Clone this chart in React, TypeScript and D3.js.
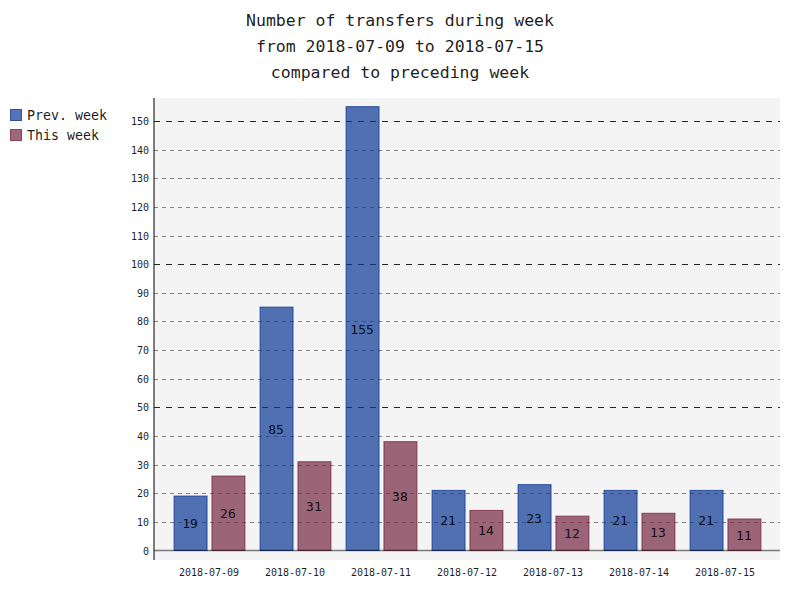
import * as d3 from 'd3';

const days = ['2018-07-09', '2018-07-10', '2018-07-11', '2018-07-12', '2018-07-13', '2018-07-14', '2018-07-15'];
const seriesNames = ['Prev. week', 'This week'];
const prevWeek = [19, 85, 155, 21, 23, 21, 21];
const thisWeek = [26, 31, 38, 14, 12, 13, 11];
const yTicks = d3.range(0, 151, 10);
const titleLines = [
  'Number of transfers during week',
  'from 2018-07-09 to 2018-07-15',
  'compared to preceding week',
];

const colors = ['rgb(12,55,149)', 'rgb(117,38,65)'];
const font = '"DejaVu Sans Mono", monospace';

export default function App() {
  const width = 800;
  const height = 600;
  const plot = { left: 154, right: 780, top: 98, bottom: 560 };

  const x = d3.scaleBand<string>().domain(days).range([166, 768]).paddingInner(0).paddingOuter(0);
  const xs = d3.scaleBand<string>().domain(seriesNames).range([0, x.bandwidth()]).paddingInner(0.13).paddingOuter(0.2);
  const y = d3.scaleLinear().domain([0, 150]).range([550.5, 121]);

  const series = [prevWeek, thisWeek];

  return (
    <svg width={width} height={height} style={{ display: 'block', position: 'absolute', left: 0, top: 0 }} fontFamily={font}>
      <rect x={0} y={0} width={width} height={height} fill="#fff" />
      {titleLines.map((t, i) => (
        <text key={t} x={400} y={26 + i * 26} textAnchor="middle" fontSize={16.5} fill="rgba(0,0,0,0.9)">
          {t}
        </text>
      ))}

      {/* legend */}
      {seriesNames.map((s, i) => (
        <g key={s} transform={`translate(10, ${109 + i * 20})`}>
          <rect x={0.5} y={0.5} width={11} height={11} fill={colors[i]} fillOpacity={0.7} stroke={colors[i]} strokeOpacity={0.8} />
          <text x={17} y={10.5} fontSize={13.3} fill="rgba(0,0,0,0.9)">{s}</text>
        </g>
      ))}

      {/* plot bg */}
      <rect x={plot.left} y={plot.top} width={plot.right - plot.left} height={plot.bottom - plot.top} fill="#f4f4f4" />

      {/* grid */}
      {yTicks.map((t) => {
        const yy = Math.round(y(t)) + 0.5;
        const major = t % 50 === 0;
        return (
          <g key={t}>
            {t !== 0 && (
              <line
                x1={plot.left}
                x2={plot.right}
                y1={yy}
                y2={yy}
                stroke={major ? 'rgba(0,0,0,0.85)' : 'rgba(0,0,0,0.45)'}
                strokeDasharray={major ? '6,6' : '4,4'}
              />
            )}
            <text x={149} y={yy + 3.5} textAnchor="end" fontSize={10} fill="rgba(0,0,0,0.9)">{t}</text>
          </g>
        );
      })}

      {/* bars */}
      {days.map((d, di) => (
        <g key={d} transform={`translate(${x(d)},0)`}>
          {series.map((vals, si) => {
            const v = vals[di];
            const bx = xs(seriesNames[si])!;
            const top = y(v);
            return (
              <g key={si}>
                <rect
                  x={bx + 0.5}
                  y={top}
                  width={xs.bandwidth()}
                  height={y(0) - top}
                  fill={colors[si]}
                  fillOpacity={0.7}
                  stroke={colors[si]}
                  strokeOpacity={0.8}
                />
                <text
                  x={bx + xs.bandwidth() / 2}
                  y={(top + y(0)) / 2 + 5}
                  textAnchor="middle"
                  fontSize={13}
                  fill="rgba(0,0,0,0.9)"
                >
                  {v}
                </text>
              </g>
            );
          })}
        </g>
      ))}

      {/* axes */}
      <line x1={plot.left} x2={plot.right} y1={y(0)} y2={y(0)} stroke="rgba(0,0,0,0.5)" strokeWidth={1.5} />
      <line x1={plot.left} x2={plot.left} y1={plot.top} y2={plot.bottom} stroke="rgba(0,0,0,0.5)" strokeWidth={2} />

      {days.map((d) => (
        <text key={d} x={x(d)! + x.bandwidth() / 2} y={576} textAnchor="middle" fontSize={10} fill="rgba(0,0,0,0.9)">
          {d}
        </text>
      ))}
    </svg>
  );
}
